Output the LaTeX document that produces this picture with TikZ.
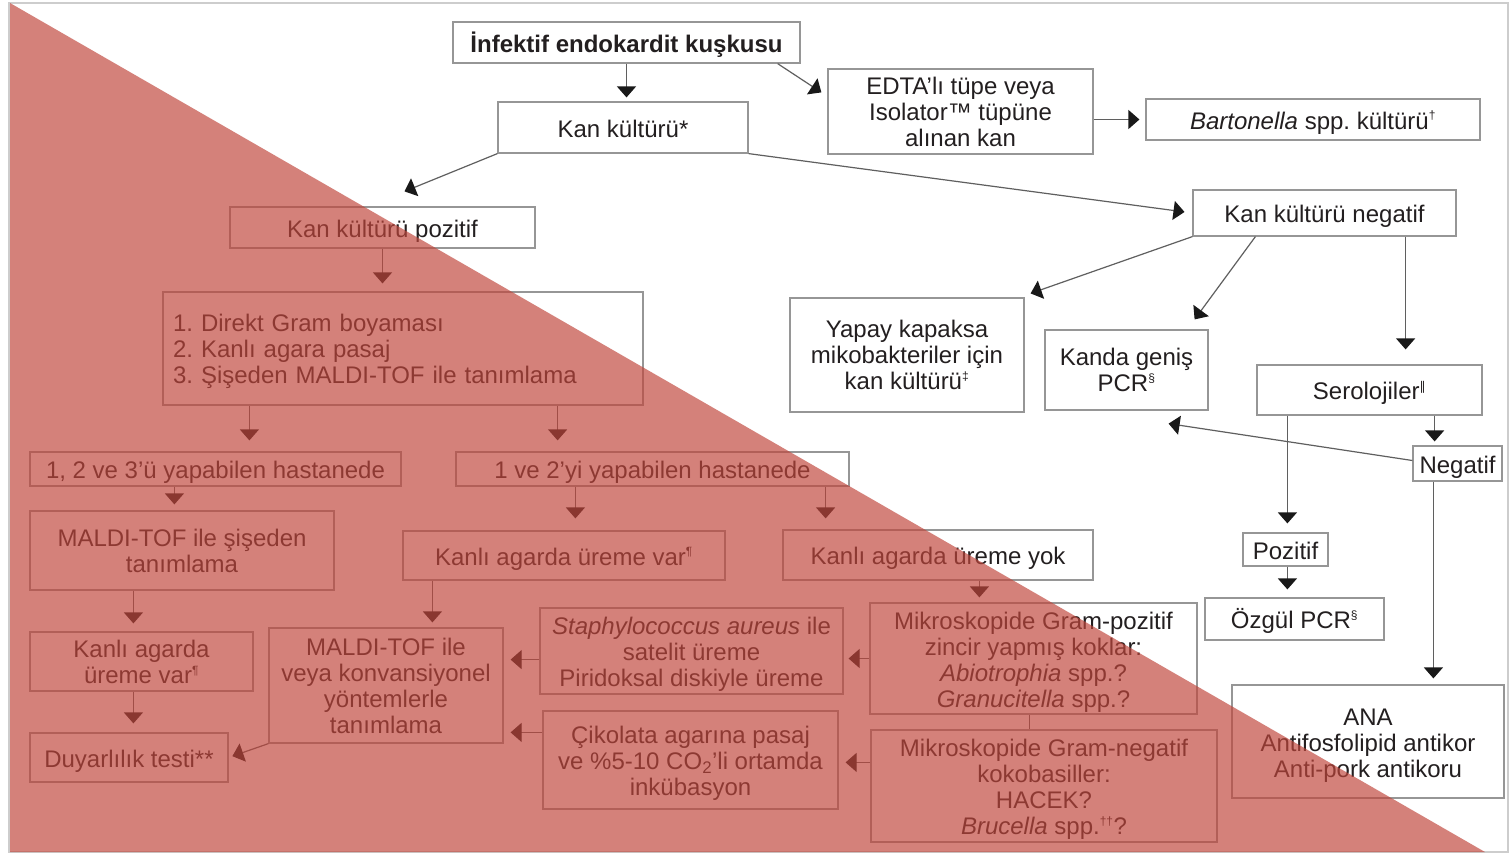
\documentclass[tikz,border=0pt]{standalone}
\usepackage{fontspec}
\setmainfont{Liberation Sans}
\newfontfamily\dejavu{DejaVu Sans}
\usetikzlibrary{arrows.meta,calc}
\definecolor{txt}{RGB}{35,31,32}
\definecolor{bord}{RGB}{150,150,150}
\definecolor{conn}{RGB}{95,95,95}
\definecolor{tipc}{RGB}{25,25,25}
\definecolor{ovl}{RGB}{192,70,60}
\definecolor{frm}{RGB}{205,205,205}
\newcommand{\sups}[1]{\textsuperscript{\fontsize{12}{12}\selectfont #1}}
\newcommand{\tp}{\rule{0pt}{24pt}}
\tikzset{
 bx/.style={draw=bord, line width=1.2pt, inner sep=0pt, align=center, text=txt,
   font=\fontsize{24}{26}\selectfont\frenchspacing},
 sl/.style={text height=20pt, text depth=1pt},
 arr/.style={draw=conn, line width=1.2pt, -{Triangle[width=19pt,length=11pt,color=tipc]}},
 ln/.style={draw=conn, line width=1.2pt},
}
\begin{document}
\begin{tikzpicture}[x=1pt,y=-1pt]
\fill[white] (0,0) rectangle (1511,855);
\useasboundingbox (0,0) rectangle (1511,855);
\draw[frm, line width=1.5pt] (9,3) rectangle (1508,852);

% nodes
\node[bx, sl, minimum width=347pt, minimum height=41pt] (title) at (626.5,42.5) {\textbf{İnfektif endokardit kuşkusu}};
\node[bx, sl, minimum width=250pt, minimum height=51pt] (kan) at (623,127.5) {Kan kültürü*};
\node[bx, minimum width=265pt, minimum height=85pt] (edta) at (960.5,111.5) {EDTA’lı tüpe veya\\Isolator™ tüpüne\\alınan kan};
\node[bx, sl, minimum width=334pt, minimum height=41pt] (barton) at (1313,119.5) {\textit{Bartonella} spp. kültürü\sups{†}};
\node[bx, sl, minimum width=305pt, minimum height=41pt] (pozitif) at (382.5,227.5) {Kan kültürü pozitif};
\node[bx, sl, minimum width=263pt, minimum height=46pt] (negatif) at (1324.5,213) {Kan kültürü negatif};
\node[bx, minimum width=234pt, minimum height=114pt] (yapay) at (907,355) {Yapay kapaksa\\mikobakteriler için\\kan kültürü\sups{‡}};
\node[bx, minimum width=163pt, minimum height=80pt] (genis) at (1126.5,370) {Kanda geniş\\PCR\sups{§}};
\node[bx, sl, minimum width=225pt, minimum height=50pt] (sero) at (1369.5,390) {Serolojiler\sups{{\dejavu ‖}}};
\node[bx, sl, minimum width=89pt, minimum height=35pt] (neg2) at (1457.5,463.5) {Negatif};
\node[bx, sl, minimum width=85pt, minimum height=33pt] (poz2) at (1285.5,549.5) {Pozitif};
\node[bx, sl, minimum width=179pt, minimum height=42pt] (ozgul) at (1294.5,619) {Özgül PCR\sups{§}};
\node[bx, minimum width=272pt, minimum height=113pt] (ana) at (1368,741.5) {\tp ANA\\Antifosfolipid antikor\\Anti-pork antikoru};
\node[bx, align=left, text width=460pt, inner xsep=10pt, minimum height=113pt] (gram) at (403,348.5) {\tp 1. Direkt Gram boyaması\\2. Kanlı agara pasaj\\3. Şişeden MALDI-TOF ile tanımlama};
\node[bx, sl, minimum width=371pt, minimum height=34pt] (h123) at (215.5,469) {1, 2 ve 3’ü yapabilen hastanede};
\node[bx, sl, minimum width=393pt, minimum height=34pt] (h12) at (652.5,469) {1 ve 2’yi yapabilen hastanede};
\node[bx, minimum width=304pt, minimum height=79pt] (maldi1) at (182,550.5) {MALDI-TOF ile şişeden\\tanımlama};
\node[bx, sl, minimum width=322pt, minimum height=49pt] (varmid) at (564,555.5) {Kanlı agarda üreme var\sups{¶}};
\node[bx, sl, minimum width=310pt, minimum height=50pt] (yok) at (938,555) {Kanlı agarda üreme yok};
\node[bx, minimum width=223pt, minimum height=59pt] (kanli1) at (141.5,661.5) {Kanlı agarda\\üreme var\sups{¶}};
\node[bx, sl, minimum width=198pt, minimum height=49pt] (duyar) at (129,757.5) {Duyarlılık testi**};
\node[bx, minimum width=234pt, minimum height=115pt] (maldi2) at (386,685.5) {MALDI-TOF ile\\veya konvansiyonel\\yöntemlerle\\tanımlama};
\node[bx, minimum width=303pt, minimum height=86pt] (staph) at (691.5,651) {\tp\textit{Staphylococcus aureus} ile\\satelit üreme\\Piridoksal diskiyle üreme};
\node[bx, minimum width=327pt, minimum height=111pt] (gpos) at (1033.5,658.5) {\tp Mikroskopide Gram-pozitif\\zincir yapmış koklar:\\\textit{Abiotrophia} spp.?\\\textit{Granucitella} spp.?};
\node[bx, minimum width=295pt, minimum height=98pt] (ciko) at (690.5,760) {\tp Çikolata agarına pasaj\\ve \%5-10 CO\textsubscript{2}’li ortamda\\inkübasyon};
\node[bx, minimum width=346pt, minimum height=112pt] (gneg) at (1044,786) {\tp Mikroskopide Gram-negatif\\kokobasiller:\\HACEK?\\\textit{Brucella} spp.\sups{††}?};

% connectors
\draw[arr,shorten >=4pt] (title.south) -- (title.south |- kan.north);
\draw[arr] ($(title.south east)+(-23,0)$) -- ($(edta.north west)+(-6,24)$);
\draw[arr,shorten >=6pt] (edta.east |- barton.west) -- (barton.west);
\draw[arr] (kan.south west) -- ($(pozitif.north)+(22,-15)$);
\draw[arr,shorten >=8pt] (kan.south east) -- (negatif.west);
\draw[arr,shorten >=8pt] (pozitif.south) -- (pozitif.south |- gram.north);
\draw[arr] (negatif.south west) -- ($(yapay.north east)+(6,-4)$);
\draw[arr] ($(negatif.south west)+(63,0)$) -- ($(genis.north east)+(-14,-10)$);
\coordinate (c9) at ($(negatif.south east)+(-51,0)$);
\draw[arr,shorten >=15pt] (c9) -- (c9 |- sero.north);
\coordinate (c10) at ($(sero.south east)+(-48,0)$);
\draw[arr,shorten >=4pt] (c10) -- (c10 |- neg2.north);
\draw[arr] ($(neg2.west)+(0,-3)$) -- ($(genis.south east)+(-40,13)$);
\coordinate (c12) at ($(sero.south west)+(31,0)$);
\draw[arr,shorten >=9pt] (c12) -- (c12 |- poz2.north);
\draw[arr,shorten >=8pt] (c12 |- poz2.south) -- (c12 |- ozgul.north);
\coordinate (c14) at ($(neg2.south west)+(21,0)$);
\draw[arr,shorten >=6pt] (c14) -- (c14 |- ana.north);
\coordinate (c15) at ($(gram.south west)+(87,0)$);
\draw[arr,shorten >=11pt] (c15) -- (c15 |- h123.north);
\coordinate (c16) at ($(gram.south east)+(-86,0)$);
\draw[arr,shorten >=11pt] (c16) -- (c16 |- h12.north);
\coordinate (c17) at ($(h123.south west)+(145,0)$);
\draw[arr,shorten >=6pt] (c17) -- (c17 |- maldi1.north);
\coordinate (c18) at ($(h12.south west)+(120,0)$);
\draw[arr,shorten >=12pt] (c18) -- (c18 |- varmid.north);
\coordinate (c19) at ($(h12.south east)+(-24,0)$);
\draw[arr,shorten >=11pt] (c19) -- (c19 |- yok.north);
\coordinate (c20) at ($(maldi1.south west)+(104,0)$);
\draw[arr,shorten >=8pt] (c20) -- (c20 |- kanli1.north);
\coordinate (c21) at ($(kanli1.south west)+(104,0)$);
\draw[arr,shorten >=9pt] (c21) -- (c21 |- duyar.north);
\coordinate (c22) at ($(varmid.south west)+(30,0)$);
\draw[arr,shorten >=5pt] (c22) -- (c22 |- maldi2.north);
\draw[arr,shorten >=4pt] (maldi2.south west) -- (duyar.east);
\coordinate (c24) at ($(staph.south west)+(0,-35)$);
\draw[arr,shorten >=7pt] (c24) -- (c24 -| maldi2.east);
\coordinate (c25) at ($(ciko.north west)+(0,22)$);
\draw[arr,shorten >=7pt] (c25) -- (c25 -| maldi2.east);
\draw[arr,shorten >=5pt] (gpos.west) -- (gpos.west -| staph.east);
\coordinate (c27) at ($(gneg.north west)+(0,33)$);
\draw[arr,shorten >=7pt] (c27) -- (c27 -| ciko.east);
\coordinate (c28) at ($(yok.south west)+(197,0)$);
\draw[arr,shorten >=5pt] (c28) -- (c28 |- gpos.north);
\coordinate (c29) at ($(gpos.south west)+(160,0)$);
\draw[ln] (c29) -- (c29 |- gneg.north);

% overlay triangle
\fill[ovl, opacity=0.68] (10,3) -- (10,852) -- (1485,852) -- cycle;
\end{tikzpicture}
\end{document}
